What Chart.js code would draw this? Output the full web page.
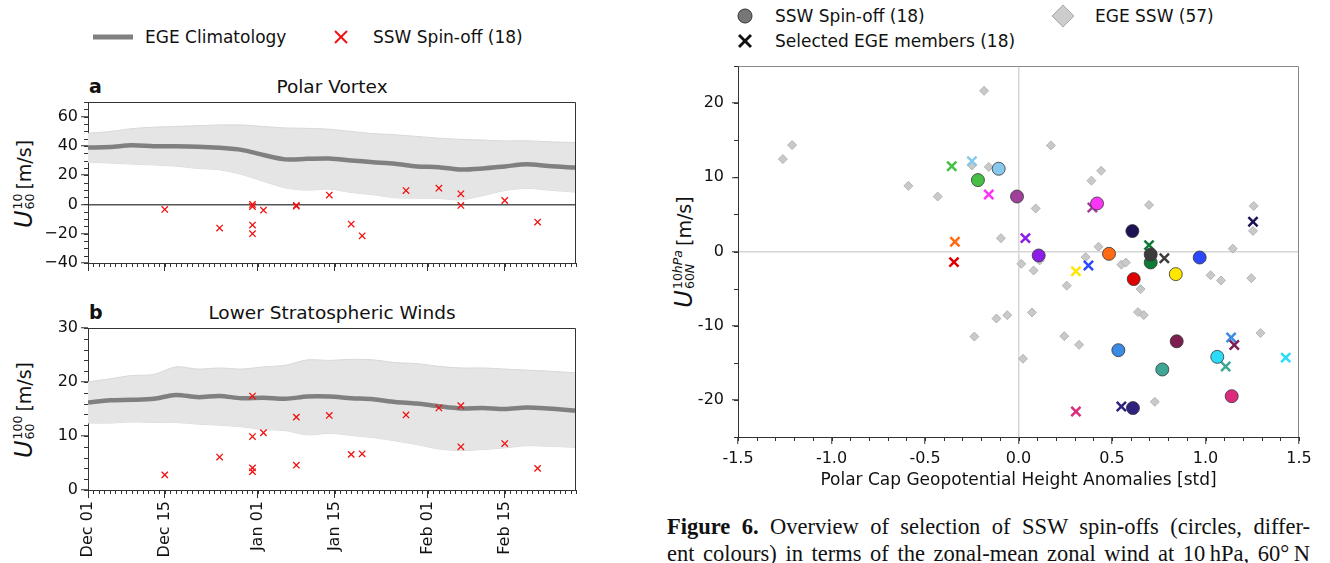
<!DOCTYPE html>
<html>
<head>
<meta charset="utf-8">
<script src="https://cdn.jsdelivr.net/npm/chart.js@4.4.1/dist/chart.umd.min.js"></script>
<style>
body{margin:0;width:1330px;height:563px;overflow:hidden;background:#fff;font-family:"DejaVu Sans",sans-serif;color:#111;position:relative}
canvas{position:absolute}
.t{position:absolute;white-space:nowrap;font-size:17px;line-height:20px}
.ttl{position:absolute;white-space:nowrap;font-size:18.5px;line-height:22px;transform:translateX(-50%)}
.yl{position:absolute;transform:translate(-50%,-50%) rotate(-90deg);white-space:nowrap;font-size:19px;display:flex;align-items:center}
.yl i.u{font-size:24px;font-family:"DejaVu Sans",sans-serif}
.ss{display:inline-flex;flex-direction:column;font-size:12.5px;line-height:12px;margin-left:1px;margin-right:4px}
.cap{position:absolute;left:667px;width:643px;font-family:"Liberation Serif",serif;font-size:22.5px;line-height:27px;text-align:justify;text-align-last:justify;white-space:nowrap;color:#111}
svg{position:absolute;overflow:visible}
</style>
</head>
<body>

<!-- legends -->
<svg style="left:0;top:0" width="1" height="1">
  <line x1="93" y1="37" x2="133" y2="37" stroke="#808080" stroke-width="5"/>
  <line x1="335" y1="31" x2="347" y2="43" stroke="#f01010" stroke-width="2"/>
  <line x1="335" y1="43" x2="347" y2="31" stroke="#f01010" stroke-width="2"/>
  <circle cx="745" cy="16" r="7" fill="#777" stroke="#333" stroke-width="1"/>
  <polygon points="1063,5 1074,16 1063,27 1052,16" fill="#cccccc" stroke="#aaaaaa" stroke-width="1"/>
  <line x1="739" y1="35" x2="751" y2="47" stroke="#111" stroke-width="2.8"/>
  <line x1="739" y1="47" x2="751" y2="35" stroke="#111" stroke-width="2.8"/>
</svg>
<div class="t" style="left:145px;top:27px">EGE Climatology</div>
<div class="t" style="left:373px;top:27px">SSW Spin-off (18)</div>
<div class="t" style="left:775px;top:6px">SSW Spin-off (18)</div>
<div class="t" style="left:1095px;top:6px">EGE SSW (57)</div>
<div class="t" style="left:775px;top:31px">Selected EGE members (18)</div>

<!-- panel titles -->
<div class="t" style="left:89px;top:76px;font-weight:bold;font-size:19px">a</div>
<div class="ttl" style="left:332px;top:76px">Polar Vortex</div>
<div class="t" style="left:89px;top:302px;font-weight:bold;font-size:19px">b</div>
<div class="ttl" style="left:332px;top:302px">Lower Stratospheric Winds</div>

<!-- y titles -->
<div class="yl" style="left:24px;top:184px"><i class="u">U</i><span class="ss"><span>10</span><span>60</span></span>[m/s]</div>
<div class="yl" style="left:24px;top:410px"><i class="u">U</i><span class="ss"><span>100</span><span>60</span></span>[m/s]</div>
<div class="yl" style="left:684px;top:252px"><i class="u">U</i><span class="ss"><span>10<i>hPa</i></span><span>60<i>N</i></span></span>[m/s]</div>

<canvas id="pv" width="600" height="180" style="left:0;top:95px"></canvas>
<canvas id="ls" width="600" height="243" style="left:0;top:320px"></canvas>
<canvas id="sc" width="670" height="440" style="left:660px;top:55px"></canvas>

<div class="cap" style="top:513px"><b>Figure 6.</b> Overview of selection of SSW spin-offs (circles, differ-</div>
<div class="cap" style="top:540px">ent colours) in terms of the zonal-mean zonal wind at 10&#8201;hPa, 60°&#8201;N</div>

<script>
// days since Dec 01
var days = [0,4,8,12,16,20,24,28,32,36,40,44,48,52,56,60,64,68,72,76,80,84,89];
var pvClim  = [38.9,39.2,40.5,39.8,39.8,39.5,38.7,37.3,33.8,30.8,31.2,31.4,30.1,28.9,27.8,26.0,25.5,23.9,24.6,26.0,27.4,26.2,25.2];
var pvUpper = [48.6,49.8,51.8,52.8,53.3,53.8,54.3,54.3,53.3,52.3,52.0,51.4,49.9,48.4,47.6,46.5,45.3,44.5,44.0,43.4,43.5,42.8,42.3];
var pvLower = [28.9,28.3,27.6,27.0,26.2,24.6,23.7,20.5,15.8,11.3,9.8,10.5,8.2,6.6,4.6,4.3,4.1,3.2,6.0,9.5,11.0,9.8,8.4];
var lsClim  = [16.2,16.6,16.7,16.9,17.6,17.2,17.4,17.0,17.1,16.9,17.3,17.3,17.0,16.8,16.3,16.0,15.5,15.1,15.2,15.0,15.3,15.1,14.7];
var lsUpper = [20.0,20.6,21.2,21.4,22.8,22.4,22.6,22.4,22.8,23.1,24.1,24.0,24.2,24.1,23.6,23.4,22.9,22.6,22.6,22.4,22.2,22.0,21.7];
var lsLower = [12.4,12.4,12.6,12.5,12.5,12.2,12.0,11.7,11.2,11.0,10.2,10.5,10.1,9.7,9.1,8.4,7.6,7.3,7.5,7.8,8.2,8.1,7.9];

// SSW spin-offs (18)
var ssDays = [14,24,30,30,30,30,32,38,38,44,48,50,58,64,68,68,76,82];
var ssU10  = [-3.4,-16.1,0.0,-1.4,-14.1,-20.0,-3.9,-0.6,-1.2,6.4,-13.4,-21.4,9.5,11.1,7.3,-0.7,2.7,-12.0];
var ssU100 = [2.8,6.1,17.4,9.9,4.1,3.4,10.6,13.5,4.6,13.8,6.6,6.7,13.9,15.2,15.6,8.0,8.6,4.0];

var dateTicks  = [0,14,31,45,62,76];
var dateLabels = ['Dec 01','Dec 15','Jan 01','Jan 15','Feb 01','Feb 15'];
var pvTicks = [-40,-20,0,20,40,60];
var lsTicks = [0,10,20,30];

// scatter: spin-offs (circles) and selected EGE members (crosses), same colour per pair
var spinColors = ['#8b1ee8','#ff6a13','#0d7a35','#3c3c3c','#2c48ff','#ffe500','#e00000','#3b8ae4','#7d1e50',
                  '#3fa594','#2adcf8','#dc2a7c','#2e2280','#87c9ec','#a1409a','#fa36f6','#1c1254','#45c045'];
var spinX = [0.108,0.484,0.707,0.707,0.969,0.841,0.616,0.534,0.846,0.769,1.063,1.140,0.612,-0.106,-0.008,0.420,0.609,-0.217];
var spinY = [-0.54,-0.31,-1.48,-0.40,-0.81,-3.05,-3.72,-13.3,-12.1,-15.9,-14.2,-19.5,-21.1,11.15,7.41,6.47,2.75,9.62];
var egeX  = [0.037,-0.340,0.698,0.780,0.374,0.307,-0.345,1.137,1.154,1.108,1.429,0.307,0.550,-0.249,0.395,-0.159,1.254,-0.357];
var egeY  = [1.80,1.31,0.86,-0.90,-1.88,-2.65,-1.43,-11.59,-12.6,-15.5,-14.3,-21.56,-20.9,12.18,5.93,7.68,4.00,11.5];
// EGE SSW events (57): 39 visible + 18 under the spin-off circles
var sswX = [-1.260,-1.211,-0.589,-0.432,-0.249,-0.159,-0.184,-0.094,0.173,0.442,0.390,0.092,0.698,1.258,1.254,0.428,1.146,
            0.359,0.113,0.015,0.081,0.550,0.574,0.258,0.653,1.027,1.083,1.245,-0.118,-0.060,0.072,0.639,0.670,-0.236,0.245,
            0.324,1.294,0.024,0.729].concat(spinX);
var sswY = [12.45,14.34,8.85,7.41,11.6,11.4,21.66,1.80,14.29,10.88,9.55,5.80,6.27,6.14,2.77,0.64,0.38,
            -0.76,-1.21,-1.66,-2.56,-1.77,-1.48,-4.60,-5.07,-3.20,-3.90,-3.60,-9.03,-8.58,-8.22,-8.17,-8.57,-11.47,-11.41,
            -12.58,-11.0,-14.46,-20.26].concat(spinY);
var xsTicks = [-1.5,-1.0,-0.5,0,0.5,1.0,1.5];
var ysTicks = [-20,-10,0,10,20];

function pts(xs, ys){ return xs.map(function(x,i){ return {x:x, y:ys[i]}; }); }
function minus(v){ return v < 0 ? '\u2212' + Math.abs(v) : String(v); }
function setTicks(list){ return function(s){ s.ticks = list.map(function(v){ return {value:v}; }); }; }
function fixW(w){ return function(s){ s.width = w; s.paddingTop = 0; s.paddingBottom = 0; }; }
function fixH(h){ return function(s){ s.height = h; s.paddingLeft = 0; s.paddingRight = 0; }; }

Chart.defaults.font.family = '"DejaVu Sans", sans-serif';
Chart.defaults.color = '#111';

// small ticks between the labelled ones
var minorTicks = {
  id: 'minorTicks',
  afterDraw: function(chart, args, opts){
    var ctx = chart.ctx;
    ctx.save();
    ctx.strokeStyle = '#333';
    ctx.lineWidth = 1;
    for (var id in opts.axes){
      var s = chart.scales[id], o = opts.axes[id];
      var n = Math.round((o.to - o.from) / o.step);
      ctx.beginPath();
      for (var i = 0; i <= n; i++){
        var p = Math.round(s.getPixelForValue(o.from + i*o.step)) + 0.5;
        if (s.isHorizontal()){ ctx.moveTo(p, s.top); ctx.lineTo(p, s.top + o.len); }
        else { ctx.moveTo(s.right, p); ctx.lineTo(s.right - o.len, p); }
      }
      ctx.stroke();
    }
    ctx.restore();
  }
};
// frame round the plot area
var box = {
  id: 'box',
  afterDatasetsDraw: function(chart, args, opts){
    var a = chart.chartArea, ctx = chart.ctx;
    ctx.save();
    ctx.lineWidth = 1;
    ctx.strokeStyle = opts.color;
    ctx.beginPath();
    ctx.moveTo(a.left + 0.5, a.top + 0.5);
    ctx.lineTo(a.right - 0.5, a.top + 0.5);
    ctx.lineTo(a.right - 0.5, a.bottom);
    ctx.stroke();
    ctx.restore();
  }
};
Chart.register(minorTicks, box);

function panel(id, clim, upper, lower, cross, ymin, ymax, yticks, ystep, zeroLine, showDates, topPad, xHeight){
  return new Chart(document.getElementById(id), {
    type: 'line',
    data: { datasets: [
      { data: pts(ssDays, cross), showLine: false, pointStyle: 'crossRot', pointRadius: 4.5,
        pointBorderColor: '#f01010', pointBorderWidth: 1.3, borderColor: '#f01010' },
      { data: pts(days, clim), borderColor: '#808080', borderWidth: 4.5, pointRadius: 0, tension: 0.3 },
      { data: pts(days, upper), borderColor: '#d8d8d8', borderWidth: 1, pointRadius: 0, tension: 0.3,
        fill: '+1', backgroundColor: '#e5e5e5' },
      { data: pts(days, lower), borderColor: '#d8d8d8', borderWidth: 1, pointRadius: 0, tension: 0.3 }
    ]},
    options: {
      responsive: false, animation: false, events: [],
      layout: { padding: { left: 0, right: 24, top: topPad, bottom: 0 } },
      plugins: {
        legend: { display: false }, tooltip: { enabled: false },
        box: { color: '#333' },
        minorTicks: { axes: { x: { from: 0, to: 89, step: 1, len: 4 }, y: { from: ymin, to: ymax, step: ystep, len: 4 } } }
      },
      scales: {
        x: { type: 'linear', min: 0, max: 89,
          afterBuildTicks: setTicks(dateTicks),
          afterFit: fixH(xHeight),
          grid: { drawOnChartArea: false, tickLength: 8, color: '#333' },
          border: { color: '#333' },
          ticks: { display: showDates, autoSkip: false, minRotation: 90, maxRotation: 90, padding: 3,
            font: { size: 16 }, callback: function(v){ return dateLabels[dateTicks.indexOf(v)]; } } },
        y: { min: ymin, max: ymax,
          afterBuildTicks: setTicks(yticks),
          afterFit: fixW(88),
          grid: { color: function(c){ return (zeroLine && c.tick && c.tick.value === 0) ? '#555' : 'rgba(0,0,0,0)'; },
                  lineWidth: 1.5, tickColor: '#333', tickWidth: 1, tickLength: 7 },
          border: { color: '#333' },
          ticks: { padding: 3, font: { size: 16 }, callback: function(v){ return minus(v); } } }
      }
    }
  });
}

panel('pv', pvClim, pvUpper, pvLower, ssU10, -40, 70, pvTicks, 5, true, false, 7, 12);
panel('ls', lsClim, lsUpper, lsLower, ssU100, 0, 30, lsTicks, 2, false, true, 8, 73);

new Chart(document.getElementById('sc'), {
  type: 'scatter',
  data: { datasets: [
    { data: pts(spinX, spinY), pointStyle: 'circle', pointRadius: 6.5,
      pointBackgroundColor: spinColors, pointBorderColor: '#333', pointBorderWidth: 0.8 },
    { data: pts(egeX, egeY), pointStyle: 'crossRot', pointRadius: 6.5,
      pointBorderColor: spinColors, pointBorderWidth: 2.5 },
    { data: pts(sswX, sswY), pointStyle: 'rectRot', pointRadius: 4.5,
      pointBackgroundColor: '#c9c9c9', pointBorderColor: '#a9a9a9', pointBorderWidth: 0.8 }
  ]},
  options: {
    responsive: false, animation: false, events: [],
    layout: { padding: { left: 0, right: 31, top: 11, bottom: 0 } },
    plugins: {
      legend: { display: false }, tooltip: { enabled: false },
      box: { color: '#888' },
      minorTicks: { axes: { x: { from: -1.5, to: 1.5, step: 0.1, len: 4 }, y: { from: -25, to: 25, step: 5, len: 4 } } }
    },
    scales: {
      x: { min: -1.5, max: 1.5,
        afterBuildTicks: setTicks(xsTicks),
        afterFit: fixH(58),
        grid: { color: function(c){ return (c.tick && c.tick.value === 0) ? '#d6d6d6' : 'rgba(0,0,0,0)'; },
                lineWidth: 1.5, tickColor: '#333', tickWidth: 1, tickLength: 7 },
        border: { color: '#333' },
        ticks: { padding: 5, font: { size: 16 }, callback: function(v){ return v.toFixed(1); } },
        title: { display: true, text: 'Polar Cap Geopotential Height Anomalies [std]', font: { size: 17 }, padding: 4 } },
      y: { min: -25, max: 25,
        afterBuildTicks: setTicks(ysTicks),
        afterFit: fixW(78),
        grid: { color: function(c){ return (c.tick && c.tick.value === 0) ? '#d6d6d6' : 'rgba(0,0,0,0)'; },
                lineWidth: 1.5, tickColor: '#333', tickWidth: 1, tickLength: 6 },
        border: { color: '#333' },
        ticks: { padding: 8, font: { size: 16 } } }
    }
  }
});
</script>
</body>
</html>
